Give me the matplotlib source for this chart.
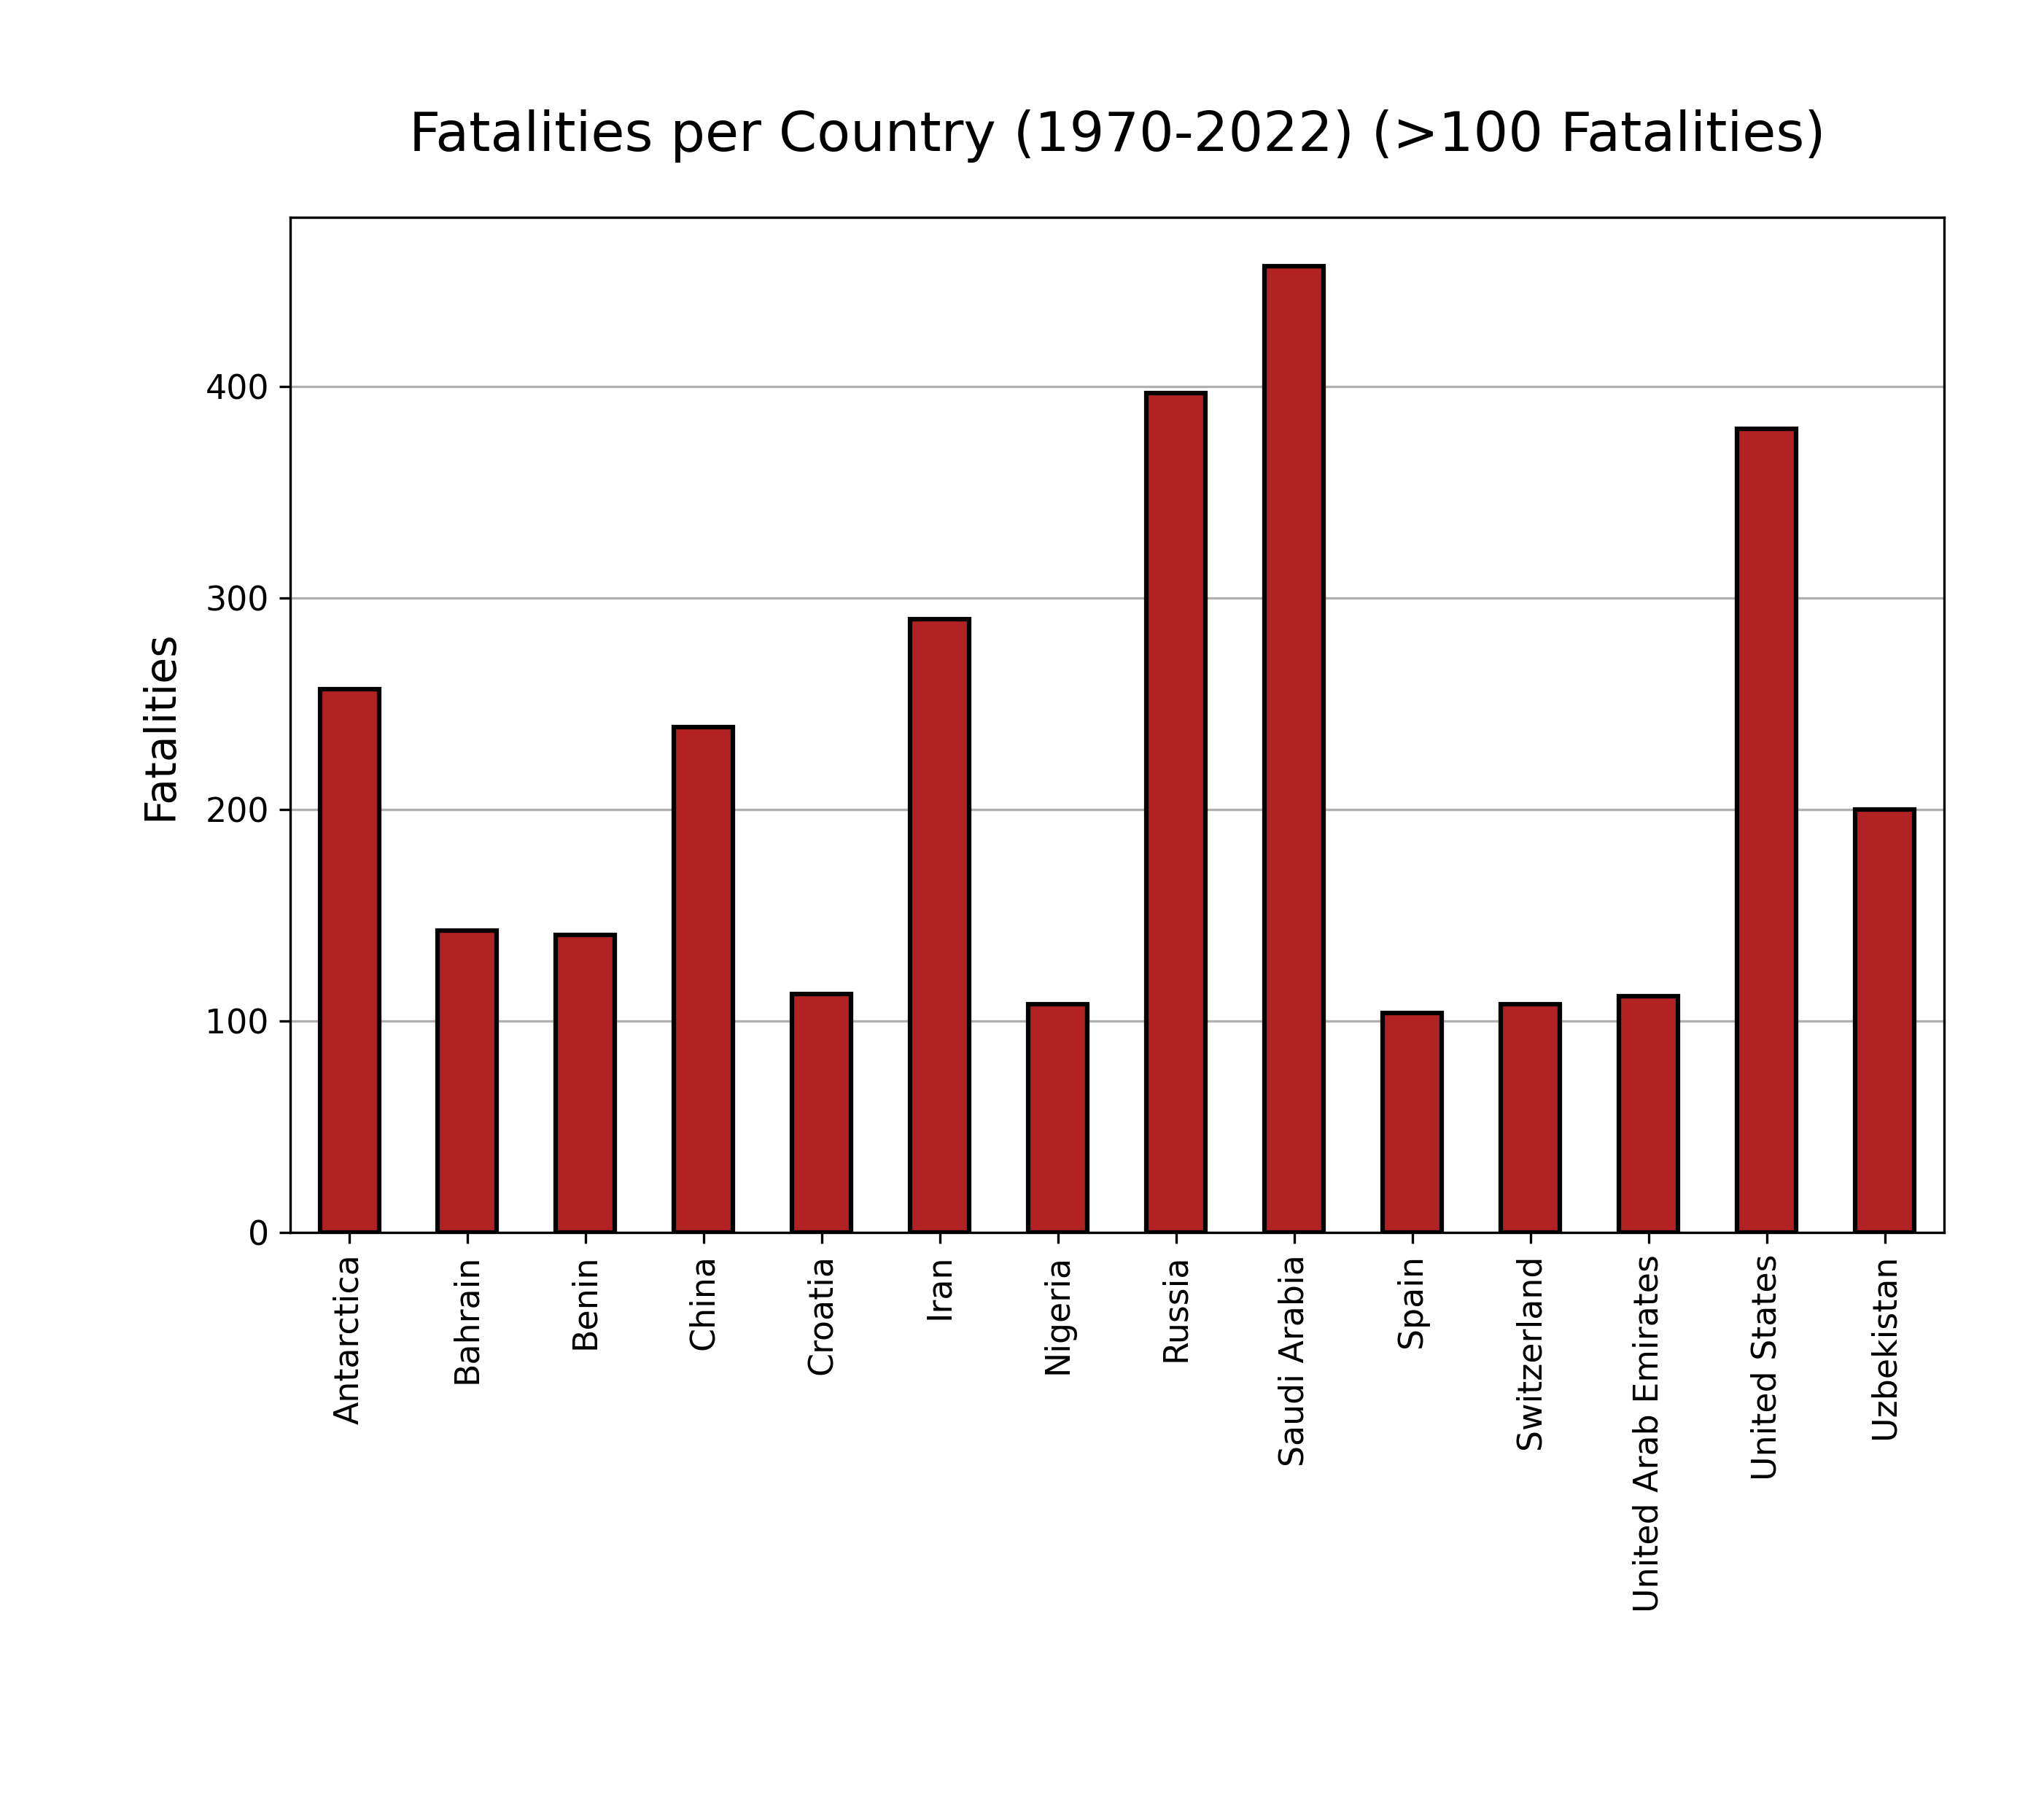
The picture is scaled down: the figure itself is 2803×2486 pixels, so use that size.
import matplotlib
matplotlib.use("Agg")
import matplotlib.pyplot as plt

countries = ["Antarctica", "Bahrain", "Benin", "China", "Croatia", "Iran", "Nigeria",
             "Russia", "Saudi Arabia", "Spain", "Switzerland", "United Arab Emirates",
             "United States", "Uzbekistan"]
fatalities = [257, 143, 141, 239, 113, 290, 108, 397, 457, 104, 108, 112, 380, 200]

fig = plt.figure(figsize=(2803 / 300, 2486 / 300), dpi=300)
ax = fig.add_axes([0.142, 0.320, 0.809, 0.560])

ax.bar(range(len(countries)), fatalities, width=0.5, color="firebrick",
       edgecolor="black", linewidth=1.5, zorder=3)
ax.set_xticks(range(len(countries)))
ax.set_xticklabels(countries, rotation=90, fontsize=11)
ax.tick_params(axis="y", labelsize=11)
ax.set_xlim(-0.5, len(countries) - 0.5)
ax.set_ylim(0, 480)
ax.set_yticks([0, 100, 200, 300, 400])
ax.grid(axis="y", color="#b0b0b0", linewidth=0.8, zorder=0)
ax.set_ylabel("Fatalities", fontsize=14, labelpad=8)
ax.set_title("Fatalities per Country (1970-2022) (>100 Fatalities)", fontsize=18, pad=22)

fig.savefig("out.png", dpi=300)
